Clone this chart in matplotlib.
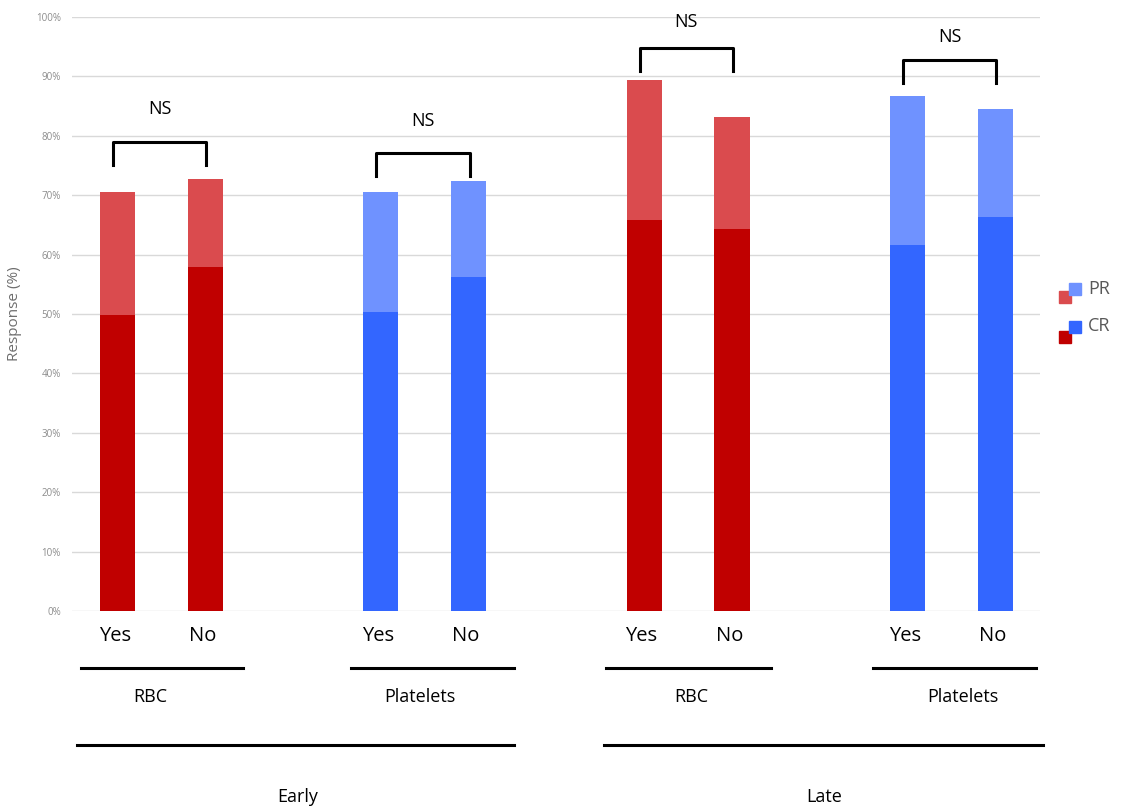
import matplotlib.pyplot as plt
import matplotlib.transforms as mtransforms
from matplotlib.patches import Rectangle

plt.rcParams['font.family'] = ['Open Sans', 'DejaVu Sans']

# data
bar_labels = ["Yes", "No", "Yes", "No", "Yes", "No", "Yes", "No"]
cr = [49.8, 57.9, 50.3, 56.2, 65.8, 64.3, 61.6, 66.3]
total = [70.5, 72.7, 70.5, 72.4, 89.4, 83.2, 86.7, 84.5]
pr = [t - c for t, c in zip(total, cr)]
groups = ["RBC", "Platelets", "RBC", "Platelets"]
periods = ["Early", "Late"]
sig_text = ["NS", "NS", "NS", "NS"]
bracket_top = [79.0, 77.1, 94.8, 92.8]
sig_text_y = [84.5, 82.5, 99.2, 96.6]

x = [0, 1, 3, 4, 6, 7, 9, 10]
red_cr, red_pr = "#C00000", "#DA4B4E"
blue_cr, blue_pr = "#3366FF", "#6F92FF"
cr_colors = [red_cr] * 2 + [blue_cr] * 2 + [red_cr] * 2 + [blue_cr] * 2
pr_colors = [red_pr] * 2 + [blue_pr] * 2 + [red_pr] * 2 + [blue_pr] * 2

fig = plt.figure(figsize=(11.21, 8.08), dpi=100)
ax = fig.add_axes([0.0642, 0.2438, 0.8635, 0.7352])

ax.bar(x, cr, width=0.4, color=cr_colors, zorder=3)
ax.bar(x, pr, bottom=cr, width=0.4, color=pr_colors, zorder=3)

ax.set_xlim(-0.518, 10.507)
ax.set_ylim(0, 100)
ax.set_yticks(range(0, 101, 10))
ax.set_yticklabels([f"{v}%" for v in range(0, 101, 10)], fontsize=7, color="#8c8c8c")
ax.set_xticks([])
ax.yaxis.grid(True, color="#d9d9d9", linewidth=1, zorder=0)
ax.tick_params(axis="y", length=0, pad=8)
for s in ax.spines.values():
    s.set_visible(False)
ax.set_ylabel("Response (%)", fontsize=11, color="#6e6e6e", labelpad=10)

# significance brackets
for i in range(4):
    x0, x1 = x[2 * i] - 0.05, x[2 * i + 1] + 0.01
    top = bracket_top[i]
    ax.plot([x0, x0, x1, x1], [top - 3.9, top, top, top - 3.9], color="black",
            linewidth=2.2, clip_on=False, zorder=4)
    ax.text((x0 + x1) / 2, sig_text_y[i], sig_text[i], ha="center", va="center",
            fontsize=13, clip_on=False)

# category labels below the axes
trans = mtransforms.blended_transform_factory(ax.transData, fig.transFigure)
for xi, lab in zip(x, bar_labels):
    ax.text(xi - 0.03, 0.213, lab, transform=trans, ha="center", va="center", fontsize=14.5)

group_lines = [(-0.42, 1.43), (2.66, 4.52), (5.57, 7.44), (8.6, 10.46)]
group_label_x = [0.37, 3.45, 6.54, 9.63]
for (a, b), gx, g in zip(group_lines, group_label_x, groups):
    ax.plot([a, b], [0.1733, 0.1733], transform=trans, color="black",
            linewidth=2.2, clip_on=False)
    ax.text(gx, 0.137, g, transform=trans, ha="center", va="center", fontsize=13)

period_lines = [(-0.46, 4.52), (5.54, 10.54)]
period_label_x = [2.05, 8.05]
for (a, b), px, p in zip(period_lines, period_label_x, periods):
    ax.plot([a, b], [0.078, 0.078], transform=trans, color="black",
            linewidth=2.2, clip_on=False)
    ax.text(px, 0.0136, p, transform=trans, ha="center", va="center", fontsize=13)

# legend drawn by hand: red + blue swatch pairs
W, H = 1121, 808
def px_rect(x0, y0, w, h, color):
    fig.patches.append(Rectangle((x0 / W, 1 - (y0 + h) / H), w / W, h / H,
                                 transform=fig.transFigure, color=color))

px_rect(1059, 291, 12, 12, red_pr)
px_rect(1069, 283, 12, 12, blue_pr)
fig.text(1088 / W, 1 - 289 / H, "PR", fontsize=13, color="#595959", va="center")
px_rect(1059, 331, 12, 12, red_cr)
px_rect(1069, 321, 12, 12, blue_cr)
fig.text(1088 / W, 1 - 326 / H, "CR", fontsize=13, color="#595959", va="center")

fig.savefig("out.png", dpi=100)
